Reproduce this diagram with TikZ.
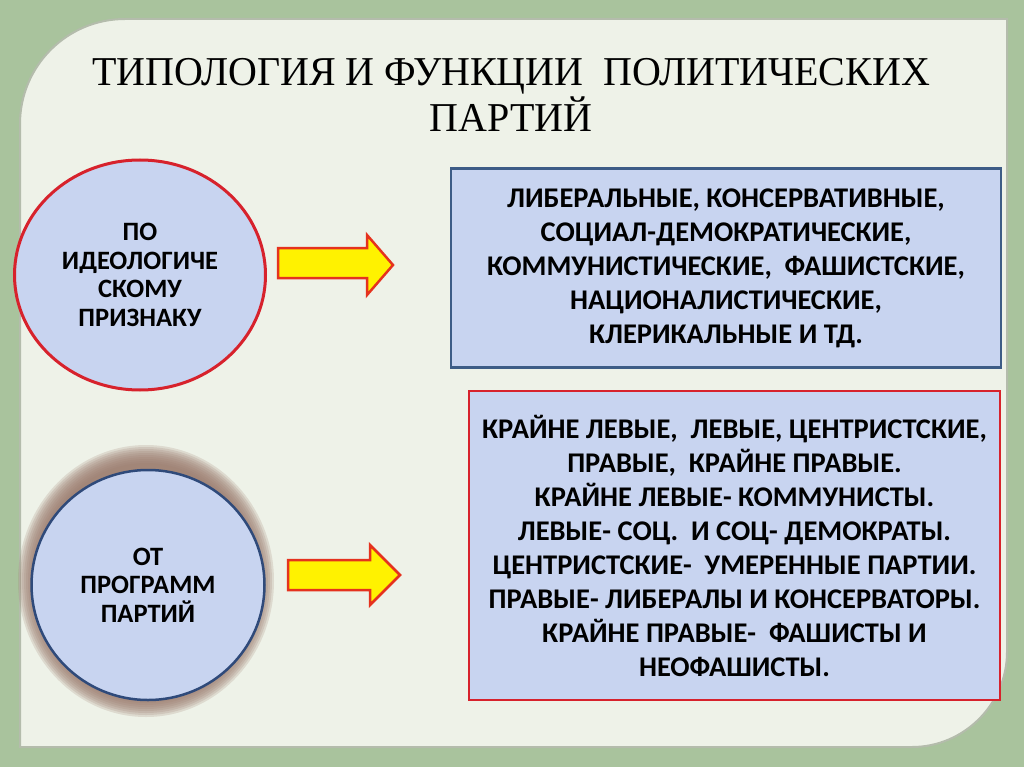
\documentclass[tikz,border=0pt]{standalone}
\usepackage{fontspec}
\usepackage{graphicx}
\setmainfont{Carlito}
\newfontfamily\titlefont{Liberation Serif}
\usetikzlibrary{shapes.geometric}
\definecolor{bggreen}{HTML}{A9C39D}
\definecolor{panelc}{HTML}{EEF2E8}
\definecolor{paneledge}{HTML}{B4BCAC}
\definecolor{bluefill}{HTML}{C8D4F0}
\definecolor{redline}{HTML}{D7222C}
\definecolor{navyline}{HTML}{2F4A7A}
\definecolor{steelline}{HTML}{3D5C86}
\definecolor{shadowc}{HTML}{9B7A6C}
\definecolor{arrowred}{HTML}{E5321E}
\begin{document}
\begin{tikzpicture}[x=1pt,y=-1pt,
  titletext/.style={font=\fontsize{41}{47}\selectfont\titlefont, inner sep=0pt, anchor=base},
  bodytext/.style={font=\fontsize{28.5}{34}\selectfont\bfseries, align=center, text=black},
  circletext/.style={font=\fontsize{26.5}{28.5}\selectfont\bfseries, align=center, text=black},
  bubble/.style={ellipse, fill=bluefill, inner sep=0pt},
  listbox/.style={rectangle, fill=bluefill, inner sep=0pt, line width=2.5pt},
  blockarrow/.style={fill=yellow, draw=arrowred, line width=2.5pt, line join=miter}
]
\useasboundingbox (0,0) rectangle (1024,767);
% background
\fill[bggreen] (0,0) rectangle (1024,767);
\path[fill=panelc, draw=paneledge, line width=2pt]
  (20,747) -- (20,124) .. controls (20,66) and (67,19) .. (125,19)
  -- (1007,19) -- (1007,652) .. controls (1007,704) and (964,747) .. (912,747) -- cycle;
% title
\node[titletext] (t1) at (511,86) {\scalebox{0.975}[1]{ТИПОЛОГИЯ И ФУНКЦИИ\ \ ПОЛИТИЧЕСКИХ}};
\node[titletext] (t2) at (511,132) {\scalebox{0.975}[1]{ПАРТИЙ}};
% circle 1
\node[bubble, draw=redline, line width=3pt, minimum width=251pt, minimum height=230pt,
      circletext] (c1) at (140,275) {ПО\\ИДЕОЛОГИЧЕ\\СКОМУ\\ПРИЗНАКУ};
% circle 2 with soft shadow
\foreach \r in {136,134,...,118} {
  \fill[shadowc, opacity=0.2] (146,581) ellipse [x radius=\r pt-8pt, y radius=\r pt];
}
\node[bubble, draw=navyline, line width=2.5pt, minimum width=233pt, minimum height=230pt,
      circletext] (c2) at (148,585) {ОТ\\ПРОГРАММ\\ПАРТИЙ};
% arrows
\draw[blockarrow] (278,248) -- (367,248) -- (367,235) -- (393,265) -- (367,295) -- (367,278) -- (278,278) -- cycle;
\draw[blockarrow] (288,560) -- (370,560) -- (370,545) -- (400,575) -- (370,605) -- (370,590) -- (288,590) -- cycle;
% boxes
\node[listbox, draw=steelline, minimum width=550pt, minimum height=199pt] (r1) at (726,268) {};
\node[bodytext] (r1t) at (r1.center) {ЛИБЕРАЛЬНЫЕ, КОНСЕРВАТИВНЫЕ,\\СОЦИАЛ-ДЕМОКРАТИЧЕСКИЕ,\\КОММУНИСТИЧЕСКИЕ,\ \ ФАШИСТСКИЕ,\\НАЦИОНАЛИСТИЧЕСКИЕ,\\КЛЕРИКАЛЬНЫЕ И ТД.};
\node[listbox, draw=redline, minimum width=531pt, minimum height=309pt] (r2) at (734.5,545.5) {};
\node[bodytext] (r2t) at (r2.center) {КРАЙНЕ ЛЕВЫЕ,\ \ ЛЕВЫЕ, ЦЕНТРИСТСКИЕ,\\ПРАВЫЕ,\ \ КРАЙНЕ ПРАВЫЕ.\\КРАЙНЕ ЛЕВЫЕ- КОММУНИСТЫ.\\ЛЕВЫЕ- СОЦ.\ \ И СОЦ- ДЕМОКРАТЫ.\\ЦЕНТРИСТСКИЕ-\ \ УМЕРЕННЫЕ ПАРТИИ.\\ПРАВЫЕ- ЛИБЕРАЛЫ И КОНСЕРВАТОРЫ.\\КРАЙНЕ ПРАВЫЕ-\ \ ФАШИСТЫ И\\НЕОФАШИСТЫ.};
\end{tikzpicture}
\end{document}
